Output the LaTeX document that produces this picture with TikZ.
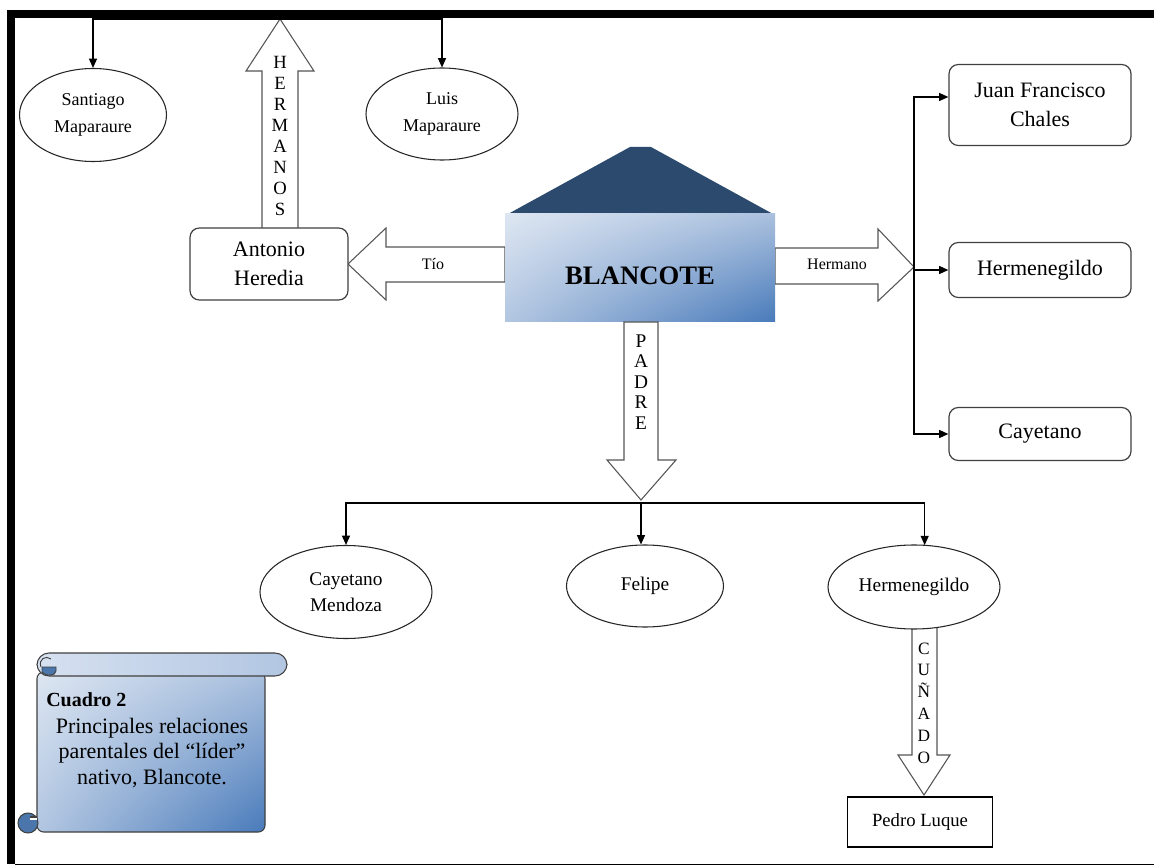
\documentclass[tikz,border=0pt]{standalone}
\usepackage{fontspec}
\setmainfont{Liberation Serif}
\usetikzlibrary{arrows.meta,shapes.geometric,calc,shadings}
\definecolor{roof}{RGB}{44,74,110}
\definecolor{bodyUL}{RGB}{221,230,242}
\definecolor{bodyUR}{RGB}{170,192,222}
\definecolor{bodyLL}{RGB}{178,198,225}
\definecolor{bodyLR}{RGB}{72,122,186}
\definecolor{outl}{RGB}{64,64,64}
\definecolor{arrowl}{RGB}{85,85,85}
\definecolor{curl}{RGB}{74,118,172}
\definecolor{rollL}{RGB}{214,225,240}
\definecolor{rollR}{RGB}{178,198,226}
\tikzset{
  conn/.style={draw=black, line width=1pt, -{Triangle[length=7pt,width=6pt]}},
  rbox/.style={draw=outl, line width=0.9pt, rounded corners=7pt, fill=white, inner sep=0pt, align=center, font=\fontsize{16.5}{22}\selectfont},
  ell/.style={ellipse, draw=black!85, line width=0.8pt, fill=white, inner sep=0pt, align=center},
  blockarrow/.style={draw=arrowl, line width=0.8pt, fill=white, line join=miter},
  stack/.style={align=center, inner sep=0pt},
  smalllbl/.style={font=\fontsize{12}{14}\selectfont, inner sep=0pt},
}
\begin{document}
\begin{tikzpicture}[x=0.75pt,y=-0.75pt]
\useasboundingbox (0,0) rectangle (1154,866);
\fill[white] (0,0) rectangle (1154,866);
% frame
\fill[black] (7,10) rectangle (1154,18);
\fill[black] (7,10) rectangle (15,864);
\draw[black, line width=1.2pt] (15,864.5) -- (1154,864.5);

% block arrows
\draw[blockarrow] (262,229) -- (262,71) -- (246,71) -- (280,19) -- (314,71) -- (298,71) -- (298,229) -- cycle;
\coordinate (topbus) at (280,19);
\draw[blockarrow] (505,247) -- (386,247) -- (386,228) -- (348,264) -- (386,300) -- (386,282) -- (505,282) -- cycle;
\draw[blockarrow] (775,248) -- (878,248) -- (878,229) -- (914,267) -- (878,301) -- (878,284) -- (775,284) -- cycle;
\coordinate (rbus) at (914,267);
\draw[blockarrow] (912,626) -- (912,755) -- (898,755) -- (924,795) -- (950,755) -- (937,755) -- (937,626) -- cycle;

% house
\fill[roof] (508,214) -- (630,147) -- (651,147) -- (773,214) -- cycle;
\node[rectangle, minimum width=202.5pt, minimum height=81pt, inner sep=0pt,
      upper left=bodyUL, upper right=bodyUR, lower left=bodyLL, lower right=bodyLR] (house) at (640,268) {};
\node[font=\bfseries\fontsize{20}{22}\selectfont, inner sep=0pt] (blancotetxt) at (640,276) {BLANCOTE};
\draw[blockarrow] (624,322) -- (624,460) -- (607,460) -- (641,500) -- (676,460) -- (658,460) -- (658,322) -- cycle;
\coordinate (pbus) at (641,503);

% arrow labels
\node[stack, font=\fontsize{14}{15.85}\selectfont] (hermanos) at (280,136) {H\\E\\R\\M\\A\\N\\O\\S};
\node[stack, font=\fontsize{14.5}{15.4}\selectfont] (padre) at (641,382) {P\\A\\D\\R\\E};
\node[stack, font=\fontsize{13}{16.35}\selectfont] (cunado) at (924,703) {C\\U\\Ñ\\A\\D\\O};
\node[smalllbl] (tio) at (433,264) {Tío};
\node[smalllbl] (hermano) at (837,264) {Hermano};

% people
\node[ell, minimum width=110.25pt, minimum height=69.75pt, font=\fontsize{13.5}{20}\selectfont] (santiago) at (93,115) {Santiago\\Maparaure};
\node[ell, minimum width=114pt, minimum height=69pt, font=\fontsize{13.5}{20}\selectfont] (luis) at (442,114) {Luis\\Maparaure};
\node[rbox, minimum width=118.5pt, minimum height=54pt] (antonio) at (269,264) {Antonio\\Heredia};
\node[rbox, minimum width=136.5pt, minimum height=60.75pt] (juan) at (1040,105) {Juan Francisco\\Chales};
\node[rbox, minimum width=136.5pt, minimum height=41.25pt] (hermR) at (1040,270) {Hermenegildo};
\node[rbox, minimum width=136.5pt, minimum height=39.75pt] (cayR) at (1040,434) {Cayetano};
\node[ell, minimum width=129pt, minimum height=69.75pt, font=\fontsize{14.5}{19.5}\selectfont] (cayM) at (346,592) {Cayetano\\Mendoza};
\node[ell, minimum width=117.75pt, minimum height=61.5pt, font=\fontsize{14.5}{19.5}\selectfont] (felipe) at (645,586) {Felipe};
\node[ell, minimum width=129pt, minimum height=63pt, font=\fontsize{14.5}{19.5}\selectfont] (hermB) at (914,587) {Hermenegildo};
\node[draw=black, line width=1.1pt, fill=white, minimum width=108.75pt, minimum height=37.5pt, inner sep=0pt, font=\fontsize{14}{15}\selectfont] (pedro) at (920,822) {Pedro Luque};

% connectors
\draw[conn] (topbus) -| (santiago.north);
\draw[conn] (topbus) -| (luis.north);
\draw[conn] (rbus) |- ([yshift=6pt]juan.west);
\draw[conn] (rbus) |- (hermR.west);
\draw[conn] (rbus) |- (cayR.west);
\draw[conn] (pbus) -| (cayM.north);
\draw[conn] (pbus) -- (pbus |- felipe.north);
\draw[conn] (pbus) -| ([xshift=8pt,yshift=-0.5pt]hermB.north);

% scroll
\shadedraw[upper left=bodyUL, upper right=bodyUR, lower left=bodyLL, lower right=bodyLR, draw=outl, line width=0.8pt, rounded corners=5pt]
  (37,672) -- (265,672) -- (265,832) -- (37,832) -- cycle;
\shadedraw[left color=rollL, right color=rollR, draw=outl, line width=0.8pt, rounded corners=9pt] (37,653) rectangle (287,676);
\filldraw[fill=curl, draw=outl, line width=0.7pt] (42,667) -- (56,667) -- (56,671) .. controls (56,676) and (45,677) .. (42,672) -- cycle;
\draw[outl, line width=0.7pt] (41,667) .. controls (38,659) and (46,655) .. (51,659);
\filldraw[fill=curl, draw=outl, line width=0.8pt] (28,823) circle (7.5pt);
\draw[white, line width=0.8pt] (30,819) -- (37,819);
\draw[outl, line width=0.8pt] (30,817) -- (37,817);
\node[anchor=west, inner sep=0pt, font=\bfseries\fontsize{15}{17}\selectfont] (cuadro) at (46,700) {Cuadro 2};
\node[align=center, inner sep=0pt, font=\fontsize{16.5}{19.1}\selectfont] (caption) at (152,753) {Principales relaciones\\parentales del “líder”\\nativo, Blancote.};
\end{tikzpicture}
\end{document}
